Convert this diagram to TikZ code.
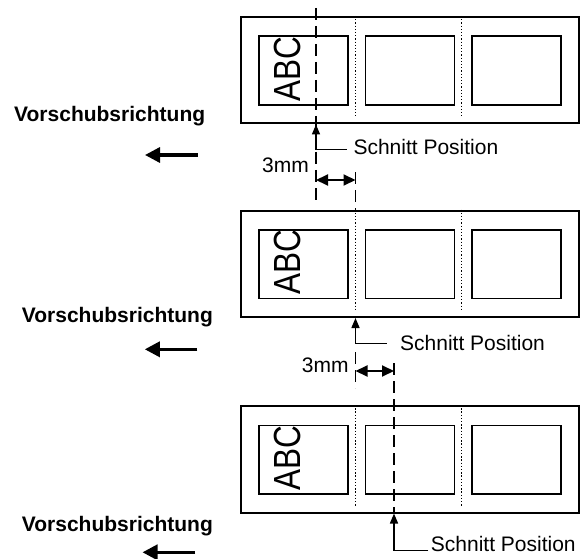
\documentclass[tikz,border=0pt]{standalone}
\usepackage{graphicx}
\usepackage{fontspec}
\setmainfont{Liberation Sans}
\usetikzlibrary{arrows.meta, calc}
\tikzset{
  strip/.style={
    rectangle, draw=black, line width=2pt, minimum width=338pt,
    minimum height=106.5pt, inner sep=0pt, anchor=north west
  },
  tile/.style={
    rectangle, draw=black, line width=1.6pt, minimum width=89pt,
    minimum height=68.5pt, inner sep=0pt, anchor=north west
  },
  abctext/.style={rotate=90, inner sep=0pt, font=\fontsize{31.5}{36}\selectfont},
  feedtext/.style={anchor=base west, inner sep=0pt, font=\bfseries\fontsize{21}{25}\selectfont},
  postext/.style={anchor=base west, inner sep=0pt, font=\fontsize{21}{25}\selectfont},
  perforation/.style={line width=1.3pt, dash pattern=on 1.3pt off 1.9pt},
  cutline/.style={line width=1.5pt, dash pattern=on 12pt off 6pt},
  cutarrow/.style={-{Triangle[length=10pt, width=8pt]}, line width=1.5pt},
  dimarrow/.style={{Triangle[length=12pt, width=11pt]}-{Triangle[length=12pt, width=11pt]}, line width=2pt},
  feedarrow/.style={-{Triangle[length=15pt, width=15pt]}, line width=3.3pt}
}

\begin{document}
\begin{tikzpicture}[x=1pt, y=-1pt]
\useasboundingbox (0,0) rectangle (581,559);

\foreach \s/\yy in {1/16, 2/209.5, 3/405} {
  \node[strip] (strip\s) at (240,\yy) {};
  \foreach \k/\t in {0/a, 1/b, 2/c}
    \node[tile] (tile\s\t) at (258+106.5*\k, \yy+19.5) {};
  \foreach \xp in {355.5, 461.5}
    \draw[perforation] (\xp,\yy) -- (\xp,\yy+100.5);
  \node[abctext] (abc\s) at (287, \yy+52.7) {\scalebox{1}[1.2]{ABC}};
}

\foreach \i/\xl/\yl/\xa/\ya in {1/14/122/197.5/155, 2/21.7/322.3/197.3/349.3, 3/21.7/531.7/195/552.3} {
  \node[feedtext] (feed\i) at (\xl,\yl) {Vorschubsrichtung};
  \coordinate (fa\i) at (\xa,\ya);
  \coordinate (fb\i) at (\xa-52.5,\ya);
  \draw[feedarrow] (fa\i) -- (fb\i);
}

\coordinate (cut1) at (316,8);
\coordinate (cut1end) at (316,200);
\coordinate (cut2) at (355.5,172);
\coordinate (cut2mid) at (355.5,352);
\coordinate (cut2end) at (355.5,388);
\coordinate (cut3) at (394,363);
\draw[cutline] (cut1) -- (cut1end);
\draw[cutline] (cut2) -- (cut2 |- strip2.north);
\draw[cutline] (cut2mid) -- (cut2end);
\draw[cutline] (cut3) -- (cut3 |- strip3.south);

\node[postext] (pos1) at (353.3,154) {Schnitt Position};
\node[postext] (pos2) at (400,350.7) {Schnitt Position};
\node[postext] (pos3) at (430.7,551) {Schnitt Position};
\coordinate (el1) at (346.7,149.3);
\coordinate (el2) at (386.7,343.3);
\coordinate (el3) at (428.3,550.7);
\draw[cutarrow] (el1) -| (cut1 |- strip1.south);
\draw[cutarrow] (el2) -| (cut2 |- strip2.south);
\draw[cutarrow] (el3) -| (cut3 |- strip3.south);

\node[postext] (mm1) at (262,172.7) {3mm};
\node[postext] (mm2) at (301.7,372.3) {3mm};
\draw[dimarrow] (cut1 |- 0,180) -- (cut2 |- 0,180);
\draw[dimarrow] (cut2 |- 0,371) -- (cut3 |- 0,371);
\end{tikzpicture}
\end{document}
